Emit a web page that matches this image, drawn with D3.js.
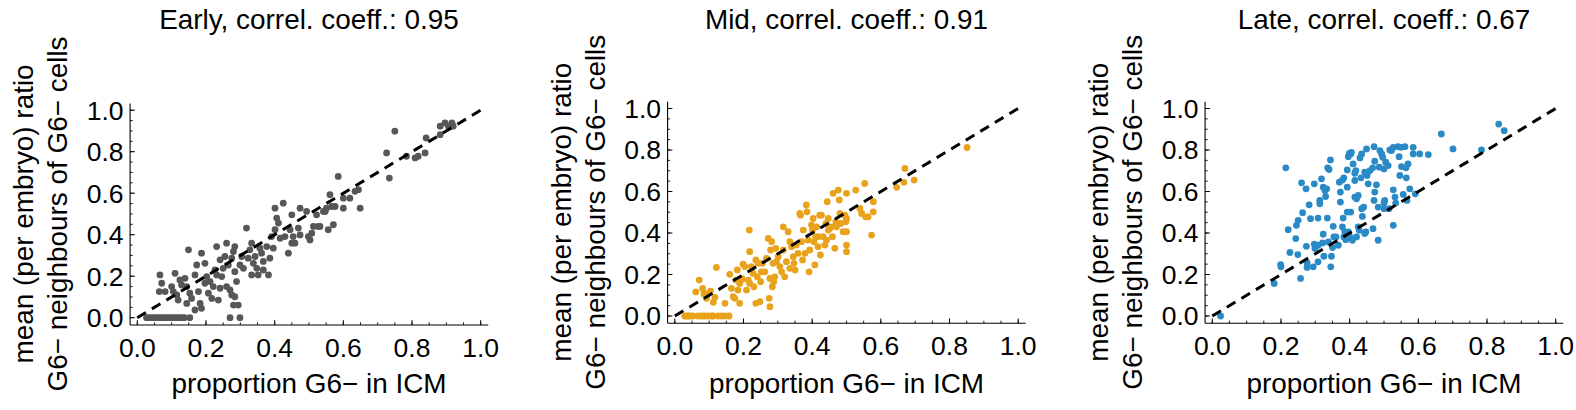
<!DOCTYPE html>
<html>
<head>
<meta charset="utf-8">
<script src="https://cdn.jsdelivr.net/npm/d3@7/dist/d3.min.js"></script>
<style>
html,body{margin:0;padding:0;background:#fff;}
text{font-family:"Liberation Sans",Arial,Helvetica,sans-serif;fill:#000;}
</style>
</head>
<body>
<svg id="chart" width="1576" height="410"></svg>
<script>
// ---------------- data ----------------
const titles = ["Early, correl. coeff.: 0.95", "Mid, correl. coeff.: 0.91", "Late, correl. coeff.: 0.67"];
const colors = ["#575757", "#E8A21C", "#2A8AC6"];
const xLabel = "proportion G6\u2212 in ICM";
const yLabel1 = "mean (per embryo) ratio";
const yLabel2 = "G6\u2212 neighbours of G6\u2212 cells";
const majorTicks = [0, 0.2, 0.4, 0.6, 0.8, 1.0];
const tickLabels = ["0.0", "0.2", "0.4", "0.6", "0.8", "1.0"];
const minorTicks = d3.range(0, 1.0001, 0.05);

const early = [
[0.027,0],[0.035,0],[0.042,0],[0.05,0],[0.057,0],[0.064,0],[0.071,0],[0.079,0],[0.086,0],[0.093,0],
[0.10,0],[0.108,0],[0.115,0],[0.122,0],[0.13,0],[0.137,0],[0.153,0],[0.270,0],[0.299,0],
[0.066,0.206],[0.071,0.166],[0.064,0.126],[0.081,0.126],[0.100,0.150],[0.110,0.214],[0.105,0.126],
[0.115,0.110],[0.124,0.182],[0.129,0.158],[0.119,0.085],[0.139,0.190],[0.144,0.150],[0.144,0.069],
[0.149,0.327],[0.153,0.118],[0.158,0.093],[0.168,0.206],[0.168,0.037],[0.173,0.254],[0.178,0.126],
[0.183,0.069],[0.187,0.311],[0.187,0.045],[0.197,0.262],[0.197,0.166],[0.202,0.198],[0.207,0.118],
[0.212,0.174],[0.217,0.093],[0.221,0.150],[0.226,0.230],[0.231,0.343],[0.231,0.206],[0.236,0.085],
[0.241,0.142],[0.241,0.279],[0.246,0.198],[0.250,0.238],[0.255,0.295],[0.260,0.359],[0.260,0.150],
[0.265,0.254],[0.270,0.134],[0.275,0.287],[0.275,0.110],[0.280,0.319],[0.284,0.222],[0.284,0.343],
[0.289,0.174],[0.280,0.061],[0.294,0.061],[0.284,0.101],[0.299,0.254],[0.304,0.295],[0.309,0.238],
[0.318,0.432],[0.323,0.287],[0.328,0.327],[0.333,0.206],[0.333,0.359],[0.338,0.262],[0.343,0.295],
[0.348,0.238],[0.352,0.206],[0.357,0.335],[0.362,0.311],[0.367,0.271],[0.367,0.230],[0.377,0.343],
[0.382,0.206],[0.386,0.287],[0.391,0.391],[0.396,0.335],[0.401,0.424],[0.401,0.528],[0.406,0.480],
[0.411,0.456],[0.416,0.383],[0.425,0.552],[0.430,0.391],[0.440,0.311],[0.445,0.424],[0.450,0.496],
[0.450,0.359],[0.454,0.391],[0.459,0.359],[0.469,0.432],[0.474,0.399],[0.474,0.528],[0.493,0.512],
[0.498,0.391],[0.503,0.375],[0.508,0.407],[0.513,0.440],[0.522,0.496],[0.527,0.440],[0.532,0.440],
[0.542,0.512],[0.547,0.512],[0.551,0.528],[0.556,0.424],[0.561,0.593],[0.566,0.536],[0.571,0.448],
[0.576,0.536],[0.585,0.681],[0.600,0.528],[0.600,0.576],[0.619,0.576],[0.634,0.609],[0.644,0.617],
[0.649,0.528],[0.726,0.794],[0.734,0.673],[0.750,0.899],[0.784,0.778],[0.809,0.770],[0.818,0.778],
[0.838,0.794],[0.841,0.866],[0.882,0.882],[0.882,0.923],[0.896,0.939],[0.906,0.923],[0.916,0.939],
[0.920,0.923]
];

const mid = [
[0.029,0],[0.034,0],[0.039,0],[0.044,0],[0.053,0],[0.068,0],[0.078,0],[0.087,0],[0.097,0],[0.107,0],
[0.112,0],[0.126,0],[0.136,0],[0.146,0],[0.158,0],
[0.061,0.116],[0.071,0.173],[0.081,0.133],[0.085,0.106],[0.092,0.085],[0.097,0.109],[0.104,0.120],
[0.112,0.066],[0.117,0.090],[0.121,0.234],[0.146,0.061],[0.160,0.201],[0.165,0.133],[0.170,0.093],
[0.175,0.085],[0.178,0.173],[0.182,0.222],[0.184,0.125],[0.189,0.061],[0.189,0.157],[0.194,0.181],
[0.197,0.177],[0.199,0.250],[0.204,0.238],[0.209,0.125],[0.214,0.173],[0.217,0.414],[0.218,0.310],
[0.218,0.157],[0.223,0.238],[0.228,0.205],[0.230,0.141],[0.236,0.061],[0.236,0.270],[0.240,0.189],
[0.243,0.254],[0.248,0.069],[0.250,0.165],[0.252,0.213],[0.255,0.254],[0.262,0.213],[0.267,0.278],
[0.272,0.374],[0.275,0.085],[0.277,0.045],[0.277,0.181],[0.279,0.318],[0.282,0.358],[0.284,0.141],
[0.286,0.254],[0.288,0.165],[0.291,0.189],[0.294,0.326],[0.296,0.262],[0.301,0.286],[0.306,0.238],
[0.311,0.213],[0.316,0.430],[0.316,0.318],[0.320,0.189],[0.325,0.262],[0.330,0.406],[0.335,0.230],
[0.335,0.358],[0.340,0.334],[0.345,0.286],[0.347,0.254],[0.350,0.222],[0.354,0.342],[0.359,0.302],
[0.364,0.494],[0.366,0.486],[0.369,0.358],[0.372,0.270],[0.374,0.414],[0.379,0.302],[0.383,0.535],
[0.385,0.502],[0.388,0.366],[0.391,0.213],[0.393,0.318],[0.398,0.438],[0.401,0.414],[0.403,0.470],
[0.405,0.358],[0.408,0.246],[0.410,0.382],[0.413,0.430],[0.417,0.382],[0.417,0.334],[0.422,0.486],
[0.424,0.294],[0.427,0.486],[0.432,0.382],[0.437,0.342],[0.440,0.446],[0.442,0.366],[0.444,0.551],
[0.447,0.414],[0.447,0.470],[0.451,0.422],[0.456,0.430],[0.459,0.382],[0.461,0.591],[0.466,0.326],
[0.469,0.454],[0.471,0.430],[0.476,0.607],[0.479,0.559],[0.481,0.494],[0.483,0.446],[0.490,0.406],
[0.495,0.486],[0.498,0.454],[0.500,0.591],[0.500,0.470],[0.500,0.310],[0.500,0.342],[0.500,0.406],
[0.527,0.607],[0.539,0.518],[0.544,0.494],[0.553,0.639],[0.556,0.478],[0.563,0.478],[0.573,0.390],
[0.578,0.551],[0.578,0.502],[0.646,0.620],[0.670,0.711],[0.667,0.644],[0.697,0.655],[0.851,0.812]
];

const late = [
[0.024,0.00],[0.180,0.157],[0.199,0.248],[0.200,0.237],[0.214,0.714],[0.221,0.416],[0.226,0.306],
[0.243,0.373],[0.245,0.437],[0.250,0.461],[0.249,0.296],[0.257,0.181],[0.260,0.642],[0.263,0.498],
[0.273,0.613],[0.274,0.336],[0.276,0.256],[0.276,0.234],[0.282,0.536],[0.286,0.469],[0.294,0.237],
[0.297,0.637],[0.297,0.346],[0.299,0.325],[0.308,0.341],[0.308,0.261],[0.308,0.472],[0.313,0.557],
[0.313,0.541],[0.318,0.661],[0.321,0.352],[0.323,0.621],[0.323,0.394],[0.325,0.288],[0.328,0.605],
[0.330,0.576],[0.333,0.613],[0.335,0.472],[0.338,0.357],[0.336,0.714],[0.340,0.706],[0.344,0.752],
[0.345,0.237],[0.347,0.288],[0.350,0.330],[0.352,0.432],[0.354,0.381],[0.360,0.381],[0.367,0.341],
[0.370,0.645],[0.373,0.549],[0.373,0.597],[0.379,0.656],[0.383,0.666],[0.379,0.429],[0.381,0.472],
[0.383,0.381],[0.386,0.405],[0.389,0.368],[0.393,0.704],[0.393,0.501],[0.393,0.621],[0.396,0.768],
[0.399,0.784],[0.403,0.781],[0.405,0.789],[0.396,0.405],[0.401,0.381],[0.408,0.365],[0.403,0.501],
[0.410,0.733],[0.415,0.653],[0.415,0.688],[0.418,0.701],[0.415,0.573],[0.420,0.565],[0.425,0.581],
[0.420,0.381],[0.425,0.429],[0.428,0.413],[0.430,0.762],[0.435,0.781],[0.433,0.666],[0.435,0.517],
[0.437,0.480],[0.441,0.525],[0.444,0.693],[0.444,0.397],[0.447,0.405],[0.449,0.805],[0.451,0.677],
[0.454,0.637],[0.459,0.701],[0.467,0.714],[0.468,0.421],[0.471,0.816],[0.471,0.557],[0.473,0.746],
[0.473,0.597],[0.478,0.632],[0.483,0.365],[0.483,0.525],[0.486,0.717],[0.488,0.797],[0.493,0.781],
[0.496,0.765],[0.500,0.544],[0.502,0.557],[0.500,0.517],[0.500,0.709],[0.505,0.741],[0.512,0.725],
[0.515,0.517],[0.517,0.800],[0.522,0.797],[0.527,0.813],[0.527,0.608],[0.532,0.573],[0.527,0.437],
[0.534,0.544],[0.541,0.816],[0.549,0.813],[0.544,0.768],[0.546,0.677],[0.551,0.720],[0.556,0.586],
[0.561,0.816],[0.564,0.714],[0.570,0.733],[0.565,0.666],[0.567,0.557],[0.575,0.613],[0.585,0.813],
[0.585,0.781],[0.591,0.589],[0.604,0.781],[0.629,0.778],[0.667,0.877],[0.701,0.805],[0.784,0.800],
[0.834,0.925],[0.850,0.893]
];

const series = [early, mid, late];

// ---------------- layout ----------------
const svg = d3.select("#chart");
const panelStep = 537.5;
const plotLeft = 137.3, plotW = 343.4;
const yZero = [317.7, 316, 316], plotH = 207.5;
const xPad = [-0.021, 1.022], yPad = [-0.035, 1.032];
const tickFont = 26.5, labelFont = 27.9;

series.forEach((pts, i) => {
  const x = d3.scaleLinear().domain([0, 1]).range([plotLeft + i * panelStep, plotLeft + plotW + i * panelStep]);
  const y = d3.scaleLinear().domain([0, 1]).range([yZero[i], yZero[i] - plotH]);
  const g = svg.append("g");

  // axes lines
  const x0 = x(xPad[0]), y0 = y(yPad[0]);
  g.append("line").attr("x1", x0).attr("x2", x(xPad[1])).attr("y1", y0).attr("y2", y0)
    .attr("stroke", "#000").attr("stroke-width", 1.1);
  g.append("line").attr("x1", x0).attr("x2", x0).attr("y1", y0).attr("y2", y(yPad[1]))
    .attr("stroke", "#000").attr("stroke-width", 1.1);

  // ticks (inward)
  g.selectAll(".xmin").data(minorTicks).enter().append("line")
    .attr("x1", d => x(d)).attr("x2", d => x(d)).attr("y1", y0).attr("y2", y0 - 2.6)
    .attr("stroke", "#000").attr("stroke-width", 0.9);
  g.selectAll(".xmaj").data(majorTicks).enter().append("line")
    .attr("x1", d => x(d)).attr("x2", d => x(d)).attr("y1", y0).attr("y2", y0 - 4.8)
    .attr("stroke", "#000").attr("stroke-width", 1);
  g.selectAll(".ymin").data(minorTicks).enter().append("line")
    .attr("y1", d => y(d)).attr("y2", d => y(d)).attr("x1", x0).attr("x2", x0 + 2.6)
    .attr("stroke", "#000").attr("stroke-width", 0.9);
  g.selectAll(".ymaj").data(majorTicks).enter().append("line")
    .attr("y1", d => y(d)).attr("y2", d => y(d)).attr("x1", x0).attr("x2", x0 + 4.8)
    .attr("stroke", "#000").attr("stroke-width", 1);

  // tick labels
  g.selectAll(".xl").data(majorTicks).enter().append("text")
    .attr("x", d => x(d)).attr("y", y0 + 32)
    .attr("text-anchor", "middle").attr("font-size", tickFont)
    .text((d, k) => tickLabels[k]);
  g.selectAll(".yl").data(majorTicks).enter().append("text")
    .attr("x", x0 - 6.5).attr("y", d => y(d) + tickFont * 0.358)
    .attr("text-anchor", "end").attr("font-size", tickFont)
    .text((d, k) => tickLabels[k]);

  // points
  g.selectAll("circle").data(pts).enter().append("circle")
    .attr("cx", d => x(d[0])).attr("cy", d => y(d[1])).attr("r", 3.4)
    .attr("fill", colors[i]);

  // diagonal dashed line
  g.append("line").attr("x1", x(0)).attr("y1", y(0)).attr("x2", x(1)).attr("y2", y(1))
    .attr("stroke", "#000").attr("stroke-width", 3).attr("stroke-dasharray", "10,7");

  // title
  g.append("text").attr("x", x(0.5)).attr("y", 29).attr("text-anchor", "middle")
    .attr("font-size", labelFont).text(titles[i]);
  // x label
  g.append("text").attr("x", x(0.5)).attr("y", 393).attr("text-anchor", "middle")
    .attr("font-size", labelFont).text(xLabel);
  // y label (two lines)
  const yc = y(0.5);
  g.append("text").attr("transform", `translate(${x0 - 97},${yc}) rotate(-90)`)
    .attr("text-anchor", "middle").attr("font-size", labelFont).text(yLabel1);
  g.append("text").attr("transform", `translate(${x0 - 63},${yc}) rotate(-90)`)
    .attr("text-anchor", "middle").attr("font-size", labelFont).text(yLabel2);
});
</script>
</body>
</html>
